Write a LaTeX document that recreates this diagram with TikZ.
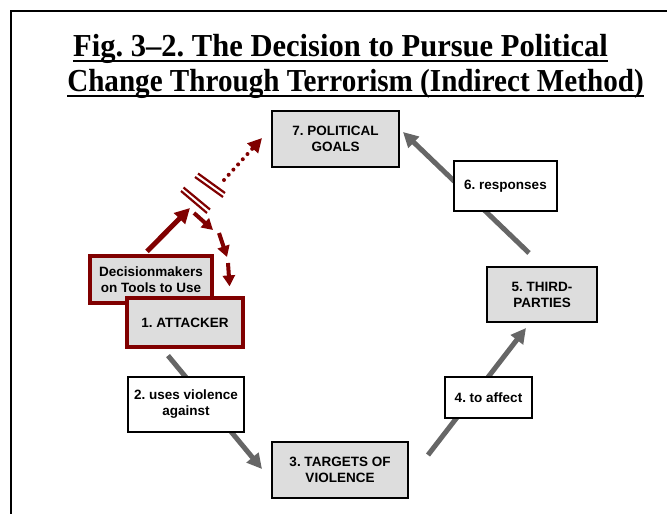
\documentclass[tikz,border=0pt]{standalone}
\usepackage{fontspec}
\setmainfont{Liberation Serif}
\newfontfamily\arialb{Liberation Sans Bold}
\newfontfamily\titlefont{Liberation Serif Bold}[FakeStretch=0.91]
\newfontfamily\titlefontw{Liberation Serif Bold}[FakeStretch=0.955]
\usetikzlibrary{arrows.meta,calc}
\definecolor{boxgray}{HTML}{DDDDDD}
\definecolor{arrgray}{HTML}{666666}
\definecolor{dred}{HTML}{800000}
\pgfdeclarelayer{bg}
\pgfsetlayers{bg,main}
\tikzset{
  lbl/.style={align=center, inner sep=0pt, font=\arialb\frenchspacing\fontsize{13.5}{16}\selectfont},
  gbox/.style={lbl, draw=black, line width=2pt, fill=boxgray},
  wbox/.style={lbl, draw=black, line width=1.2pt, fill=white},
  rbox/.style={lbl, draw=dred, line width=3.2pt, fill=boxgray},
  garrow/.style={draw=arrgray, line width=5pt, -{Triangle[length=15pt,width=15pt]}},
  rarrow/.style={draw=dred, line width=5pt, -{Triangle[length=15pt,width=15pt]}},
  rshort/.style={draw=dred, line width=4pt, -{Triangle[length=11pt,width=12pt]}},
  rdots/.style={draw=dred, line width=4pt, dash pattern=on 0pt off 7pt, line cap=round, -{Triangle[length=14pt,width=14pt]}},
  brkmark/.style={draw=dred, line width=2.2pt},
  ttl/.style={inner sep=0pt, anchor=base},
}
\begin{document}
\begin{tikzpicture}[x=1pt,y=-1pt]
\useasboundingbox (0,0) rectangle (667,514);
% frame
\draw[line width=2pt] (11,514) -- (11,11) -- (667,11);
% title
\node[ttl, font=\titlefontw\fontsize{32}{36}\selectfont] (t1) at (340.5,56) {\frenchspacing Fig. 3–2. The Decision to Pursue Political};
\node[ttl, font=\titlefont\fontsize{32}{36}\selectfont] (t2) at (355.5,91) {Change Through Terrorism (Indirect Method)};
\draw[line width=2.6pt] ([yshift=-5pt]t1.base west) -- ([yshift=-5pt]t1.base east);
\draw[line width=2.6pt] ([yshift=-5pt]t2.base west) -- ([yshift=-5pt]t2.base east);
% boxes
\node[gbox, minimum width=127pt, minimum height=56pt] (n7) at (335.5,139) {7. POLITICAL\\GOALS};
\node[wbox, minimum width=103pt, minimum height=50pt] (n6) at (505.5,186) {6. responses};
\node[gbox, minimum width=110pt, minimum height=55pt] (n5) at (542,294.5) {5. THIRD-\\PARTIES};
\node[wbox, minimum width=87pt, minimum height=41pt] (n4) at (488.5,397.5) {4. to affect};
\node[gbox, minimum width=136pt, minimum height=56pt] (n3) at (340,470) {3. TARGETS OF\\VIOLENCE};
\node[wbox, minimum width=116pt, minimum height=55pt] (n2) at (186,404.5) {2. uses violence\\against};
\node[rbox, minimum width=122pt, minimum height=47pt] (nd) at (151,279.5) {Decisionmakers\\on Tools to Use};
\node[rbox, minimum width=116pt, minimum height=49pt] (n1) at (185,322.5) {1. ATTACKER};
% break point
\coordinate (brk) at (202,194);
\coordinate (d1) at (194,213);
\coordinate (d2) at (213,230);
\coordinate (d3) at (219,233);
\coordinate (d4) at (227,257);
\coordinate (d5) at (228,263);
\begin{pgfonlayer}{bg}
\draw[garrow] ([xshift=-17pt,yshift=-7pt]n1.south) -- ([xshift=-9pt,yshift=1pt]n3.west);
\draw[garrow] ([xshift=19pt,yshift=15pt]n3.east) -- ([xshift=-16pt,yshift=-5pt]n5.south);
\draw[garrow] ([xshift=-13pt,yshift=13pt]n5.north) -- ([xshift=3pt,yshift=7pt]n7.east);
\end{pgfonlayer}
% red
\draw[rarrow] ([xshift=-4pt,yshift=3pt]nd.north) -- ([xshift=-12pt,yshift=-14pt]brk);
\draw[rdots] ([xshift=22pt,yshift=14pt]brk) -- ([xshift=-9pt,yshift=1pt]n7.west);
% break marks
\draw[brkmark] (181,191) -- (207,213);
\draw[brkmark] (183.5,187.5) -- (210,209.5);
\draw[brkmark] (195,177) -- (223,197);
\draw[brkmark] (198,173.5) -- (225,193);
% short arrows
\draw[rshort] (d1) -- (d2);
\draw[rshort] (d3) -- (d4);
\draw[rshort] (d5) -- ([xshift=-15pt,yshift=10pt]n1.north east);
\end{tikzpicture}
\end{document}
